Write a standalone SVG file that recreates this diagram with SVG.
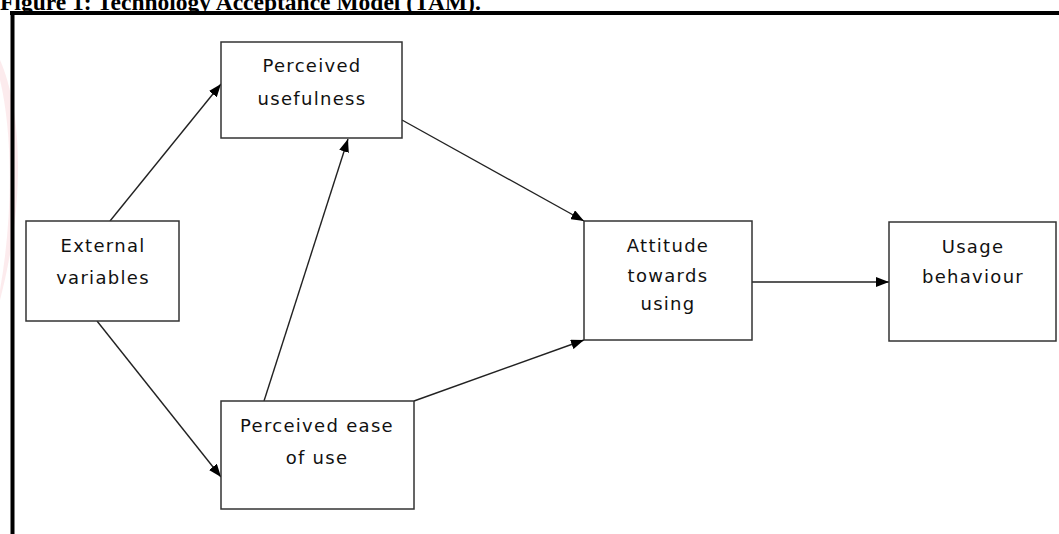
<svg xmlns="http://www.w3.org/2000/svg" width="1059" height="534" viewBox="0 0 1059 534">
  <style>
    .box { fill: #ffffff; stroke: #333333; stroke-width: 1.5; }
    .lbl { font-family: "DejaVu Sans", Verdana, sans-serif; font-size: 18px; fill: #111111; text-anchor: middle; letter-spacing: 1.3px; }
    .con { stroke: #222222; stroke-width: 1.4; fill: none; marker-end: url(#ah); }
    .title { font-family: "Liberation Serif", "Times New Roman", serif; font-weight: bold; font-size: 23.5px; fill: #000000; }
  </style>
  <defs>
    <marker id="ah" viewBox="0 0 13 10" refX="13" refY="5" markerWidth="13" markerHeight="10" markerUnits="userSpaceOnUse" orient="auto">
      <path d="M0,0 L13,5 L0,10 Z" fill="#000000"/>
    </marker>
  </defs>
  <rect x="0" y="0" width="1059" height="534" fill="#ffffff"/>
  <path d="M0,60 C22,110 26,200 0,300 L0,290 C14,210 12,130 0,80 Z" fill="#fbe6e8" opacity="0.8"/>
  <text class="title" x="0" y="10">Figure 1:  Technology Acceptance Model (TAM).</text>
  <g id="frame">
    <line x1="10" y1="13" x2="1059" y2="13" stroke="#000" stroke-width="4"/>
    <line x1="12.5" y1="11" x2="12.5" y2="534" stroke="#000" stroke-width="4"/>
  </g>
  <g id="connectors">
    <line class="con" x1="110" y1="221" x2="221" y2="84"/>
    <line class="con" x1="97" y1="321" x2="221" y2="477"/>
    <line class="con" x1="264" y1="401" x2="348" y2="139"/>
    <line class="con" x1="402" y1="120" x2="584" y2="221"/>
    <line class="con" x1="414" y1="401" x2="584" y2="340"/>
    <line class="con" x1="752" y1="282" x2="889" y2="282"/>
  </g>
  <g id="node-useful">
    <rect class="box" x="221" y="42" width="181" height="96"/>
    <text class="lbl" x="312" y="72">Perceived</text>
    <text class="lbl" x="312" y="105">usefulness</text>
  </g>
  <g id="node-external">
    <rect class="box" x="26" y="221" width="153" height="100"/>
    <text class="lbl" x="103" y="252">External</text>
    <text class="lbl" x="103" y="284">variables</text>
  </g>
  <g id="node-ease">
    <rect class="box" x="221" y="401" width="193" height="108"/>
    <text class="lbl" x="317" y="432">Perceived ease</text>
    <text class="lbl" x="317" y="464">of use</text>
  </g>
  <g id="node-attitude">
    <rect class="box" x="584" y="221" width="168" height="119"/>
    <text class="lbl" x="668" y="252">Attitude</text>
    <text class="lbl" x="668" y="282">towards</text>
    <text class="lbl" x="668" y="310">using</text>
  </g>
  <g id="node-usage">
    <rect class="box" x="889" y="222" width="167" height="119"/>
    <text class="lbl" x="973" y="253">Usage</text>
    <text class="lbl" x="973" y="283">behaviour</text>
  </g>
</svg>
